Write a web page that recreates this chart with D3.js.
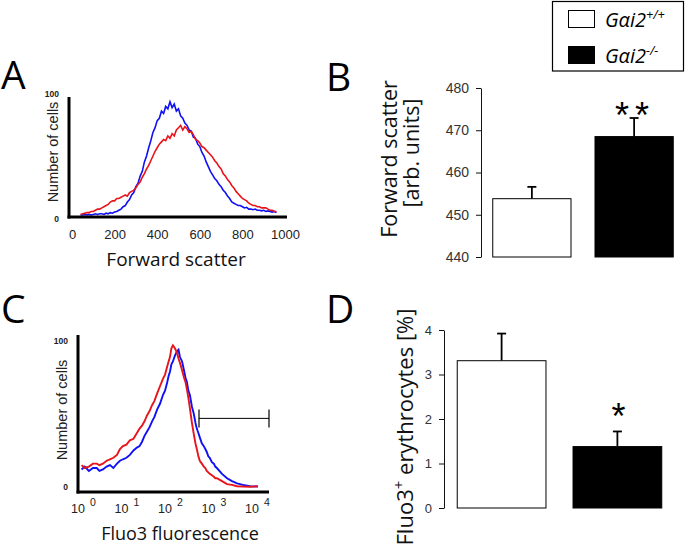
<!DOCTYPE html>
<html>
<head>
<meta charset="utf-8">
<script src="https://cdn.jsdelivr.net/npm/d3@7"></script>
<style>
  body { margin: 0; background: #fff; }
  svg { display: block; }
</style>
</head>
<body>
<svg id="chart" width="685" height="557"></svg>
<script>
// ---------------- DATA ----------------
// Panel A: forward scatter histograms (bin centre, arb. units) - % of max cells
const fscBins = d3.range(40, 961, 10);
const fscWildtype = [0,0,0.5,0,0.5,0,0.5,1,0.5,1,
  1,0.5,1.5,1,2,1.5,2.5,3,4,5,
  7,8,11,13,17,19,24,27,33,37,
  45,50,57,63,70,74,80,82,88,86,
  92,90,96,91,94,88,90,84,82,78,
  76,72,71,66,65,60,58,53,50,45,
  41,37,34,31,29,26,24,21,19,16,
  14,11,10,9,8,8,7,6,6.5,5,
  5,4.5,5,4,4,3.5,4,3,3.5,3,
  2.5,3,2];
const fscKnockout = [0.5,1,1.5,2,2,3,3,4,5,5,
  6,7,8,9,11,12,12,14,14,15,
  16,17,16,19,20,21,23,26,28,32,
  35,39,42,46,50,54,57,60,62,64,
  63,67,65,69,67,72,74,76,72,75,
  73,70,71,68,64,63,61,58,57,55,
  53,51,49,46,44,41,39,35,33,30,
  28,25,23,20,18,16,14,13,12,10,
  9,8,8,7,7,6,6,6,5,4,
  4,3,3];
const fscTicks = [0, 200, 400, 600, 800, 1000];
const countTicks = [0, 100];

// Panel C: Fluo3 fluorescence histograms (log fluorescence) - % of max cells
const fluoBins = [0.93,1.1,1.37,1.7,2.07,2.4,2.88,3.5,4.18,5,
  6.05,7.1,8.3,10,12,14.5,17.4,20,22.8,26,
  29.7,34,38.8,44,50.6,59,69,77,85.5,93,
  100,108,117,130,145,157,170,190,210,227,
  245,265,287,320,354,385,414,450,485,540,
  600,650,702,760,822,920,1020,1100,1200,1570,
  2050,2670,3480,4750,6940,10500];
const fluoWildtype = [12,14,11,13,13,11,12,14,15,13,
  16,18,19,20,22,25,27,28,31,35,
  38,41,45,48,53,57,63,66,71,76,
  79,84,86,90,93,94,89,86,80,75,
  72,66,63,55,50,44,40,37,34,30,
  28,26,24,21,20,17,16,14,13,9,
  6,4,2.5,1.5,0.5,0.3];
const fluoKnockout = [15,13,14,16,16,15,16,18,19,20,
  22,26,28,29,32,33,37,40,42,45,
  49,52,56,59,64,69,74,77,82,86,
  89,95,97,95,92,88,85,80,75,72,
  67,61,54,44,36,30,26,21,18,16,
  14,13,11,10,9,8,7,6,6,4,
  2,1.5,0.5,0.3,0.2,0.5];
const fluoTicks = [1, 10, 100, 1000, 10000];
const fluoExponents = ["0", "1", "2", "3", "4"];
const fluoGate = [465, 18900];
const fluoGateLevel = 47;

// Panels B and D: bar charts
const genotypeBase = "G\u03b1i2";
const genotypeSup = ["+/+", "-/-"];
const genotypes = ["wt", "ko"];
const fscMean = [453.8, 468.5];
const fscSem = [2.8, 4.4];
const fscBarTicks = [440, 450, 460, 470, 480];
const fscSignif = ["", "**"];
const fluoPosMean = [3.31, 1.38];
const fluoPosSem = [0.61, 0.34];
const fluoPosTicks = [0, 1, 2, 3, 4];
const fluoPosSignif = ["", "*"];

// ---------------- STYLE ----------------
const BLUE = "#1010f5", RED = "#e8141c";
const SANS = "'Open Sans', sans-serif";
const ARIAL = "'Liberation Sans', Arial, sans-serif";

const svg = d3.select("#chart");

function panelLetter(t, x, y) {
  svg.append("text").attr("x", x).attr("y", y).text(t)
    .attr("font-family", SANS).attr("font-size", 39).attr("fill", "#000");
}

// ---------------- PANEL A ----------------
{
  const x = d3.scaleLinear().domain([0, 1000]).range([72, 285]);
  const y = d3.scaleLinear().domain([0, 100]).range([215, 97]);
  const g = svg.append("g");
  const line = d3.line().x((d, i) => x(fscBins[i])).y(d => y(d)).curve(d3.curveLinear);
  g.append("path").datum(fscWildtype).attr("d", line).attr("fill", "none").attr("stroke", BLUE).attr("stroke-width", 1.6);
  g.append("path").datum(fscKnockout).attr("d", line).attr("fill", "none").attr("stroke", RED).attr("stroke-width", 1.6);
  // axes
  const xa = g.append("g").attr("transform", "translate(0,217)")
    .call(d3.axisBottom(x).tickValues(fscTicks).tickSize(0).tickPadding(13).tickFormat(d3.format("d")));
  xa.select(".domain").remove();
  xa.selectAll("text").attr("font-family", ARIAL).attr("font-size", 13).attr("fill", "#222");
  const ya = g.append("g").attr("transform", "translate(69,0)")
    .call(d3.axisLeft(y).tickValues(countTicks).tickSize(0).tickPadding(10));
  ya.select(".domain").remove();
  ya.selectAll("text").attr("font-family", ARIAL).attr("font-size", 8.5).attr("font-weight", "bold").attr("fill", "#222");
  ya.selectAll(".tick").filter(d => d === 100).select("text").attr("dy", "-0.1em");
  ya.selectAll(".tick").filter(d => d === 0).select("text").attr("dy", "0.75em");
  g.append("line").attr("x1", 69).attr("x2", 69).attr("y1", y(100)).attr("y2", 218.5).attr("stroke", "#000").attr("stroke-width", 3);
  g.append("line").attr("x1", 67.5).attr("x2", 287).attr("y1", 217).attr("y2", 217).attr("stroke", "#000").attr("stroke-width", 3);
  g.append("text").attr("transform", "translate(58,152) rotate(-90)").attr("text-anchor", "middle")
    .attr("font-family", ARIAL).attr("font-size", 14.5).attr("fill", "#222").text("Number of cells");
  g.append("text").attr("x", 176).attr("y", 266).attr("text-anchor", "middle")
    .attr("font-family", SANS).attr("font-size", 19).attr("fill", "#111").text("Forward scatter");
  panelLetter("A", 1, 89);
}

// ---------------- PANEL C ----------------
{
  const x = d3.scaleLog().domain([0.77, 18900]).range([78, 269]);
  const y = d3.scaleLinear().domain([0, 100]).range([487, 341]);
  const g = svg.append("g");
  const line = d3.line().x((d, i) => x(fluoBins[i])).y(d => y(d));
  g.append("path").datum(fluoWildtype).attr("d", line).attr("fill", "none").attr("stroke", BLUE).attr("stroke-width", 1.9);
  g.append("path").datum(fluoKnockout).attr("d", line).attr("fill", "none").attr("stroke", RED).attr("stroke-width", 1.9);
  // gate bracket
  const gy = y(fluoGateLevel);
  g.append("line").attr("x1", x(fluoGate[0])).attr("x2", x(fluoGate[1])).attr("y1", gy).attr("y2", gy).attr("stroke", "#000").attr("stroke-width", 1);
  fluoGate.forEach(v => g.append("line").attr("x1", x(v)).attr("x2", x(v)).attr("y1", gy - 9).attr("y2", gy + 9).attr("stroke", "#000").attr("stroke-width", 1.2));
  // x ticks
  const xa = g.append("g").attr("transform", "translate(0,492)")
    .call(d3.axisBottom(x).tickValues(fluoTicks).tickSize(0).tickPadding(15).tickFormat(() => ""));
  xa.select(".domain").remove();
  xa.selectAll(".tick text").each(function(d, i) {
    const t = d3.select(this).attr("font-family", ARIAL).attr("font-size", 12.5).attr("fill", "#222").attr("y", 21).attr("dy", null);
    t.append("tspan").text("10");
    t.append("tspan").attr("dx", 5).attr("dy", -7).attr("font-size", 10.5).text(fluoExponents[i]);
  });
  const ya = g.append("g").attr("transform", "translate(78,0)")
    .call(d3.axisLeft(y).tickValues(countTicks).tickSize(0).tickPadding(10));
  ya.select(".domain").remove();
  ya.selectAll("text").attr("font-family", ARIAL).attr("font-size", 8.5).attr("font-weight", "bold").attr("fill", "#222");
  g.append("line").attr("x1", 78).attr("x2", 78).attr("y1", 335).attr("y2", 493.5).attr("stroke", "#000").attr("stroke-width", 3);
  g.append("line").attr("x1", 76.5).attr("x2", 269).attr("y1", 492).attr("y2", 492).attr("stroke", "#000").attr("stroke-width", 3);
  g.append("text").attr("transform", "translate(67,410) rotate(-90)").attr("text-anchor", "middle")
    .attr("font-family", ARIAL).attr("font-size", 14.5).attr("fill", "#222").text("Number of cells");
  g.append("text").attr("x", 180).attr("y", 540).attr("text-anchor", "middle")
    .attr("font-family", SANS).attr("font-size", 18).attr("fill", "#111").text("Fluo3 fluorescence");
  panelLetter("C", 1, 323);
}

// ---------------- BAR PANELS ----------------
function barPanel(opts) {
  const g = svg.append("g");
  const x = d3.scaleBand().domain(genotypes).range(opts.xr).paddingInner(0.225).paddingOuter(0.11);
  const y = d3.scaleLinear().domain(opts.domain).range(opts.yr);
  const ya = g.append("g").attr("transform", `translate(${opts.xr[0]},0)`)
    .call(d3.axisLeft(y).tickValues(opts.ticks).tickSize(5).tickSizeOuter(0).tickPadding(7).tickFormat(d3.format("d")));
  ya.select(".domain").attr("stroke", "#111");
  ya.selectAll(".tick line").attr("stroke", "#111");
  ya.selectAll("text").attr("font-family", ARIAL).attr("font-size", opts.tickFont).attr("fill", "#333");
  genotypes.forEach((k, i) => {
    const bx = x(k), bw = x.bandwidth();
    const top = y(opts.mean[i]);
    const etop = y(opts.mean[i] + opts.sem[i]);
    const cx = bx + bw / 2;
    g.append("line").attr("x1", cx).attr("x2", cx).attr("y1", top).attr("y2", etop).attr("stroke", "#000").attr("stroke-width", 1.8);
    g.append("line").attr("x1", cx - 4.5).attr("x2", cx + 4.5).attr("y1", etop).attr("y2", etop).attr("stroke", "#000").attr("stroke-width", 1.8);
    g.append("rect").attr("x", bx + 0.5).attr("y", top).attr("width", bw - 1).attr("height", y(opts.domain[0]) - top)
      .attr("fill", i === 0 ? "#fff" : "#000").attr("stroke", "#000").attr("stroke-width", 1);
    if (opts.signif[i]) {
      g.append("text").attr("x", cx + 1).attr("y", etop + opts.starDy).attr("text-anchor", "middle")
        .attr("font-family", ARIAL).attr("font-size", 36).attr("letter-spacing", opts.starSpacing).attr("fill", "#000")
        .text(opts.signif[i]);
    }
  });
  return g;
}

// Panel B
{
  const g = barPanel({ xr: [481, 685], yr: [257, 88], domain: [440, 480], ticks: fscBarTicks,
    mean: fscMean, sem: fscSem, signif: fscSignif, tickFont: 14, starDy: 10, starSpacing: 6 });
  g.append("text").attr("transform", "translate(397,159) rotate(-90)").attr("text-anchor", "middle")
    .attr("font-family", SANS).attr("font-size", 21.5).attr("fill", "#111").text("Forward scatter");
  g.append("text").attr("transform", "translate(419,153) rotate(-90)").attr("text-anchor", "middle")
    .attr("font-family", SANS).attr("font-size", 21.5).attr("fill", "#111").text("[arb. units]");
  panelLetter("B", 326, 91);
}

// Panel D
{
  const g = barPanel({ xr: [444, 675], yr: [508, 330], domain: [0, 4], ticks: fluoPosTicks,
    mean: fluoPosMean, sem: fluoPosSem, signif: fluoPosSignif, tickFont: 13, starDy: -2, starSpacing: 0 });
  const t = g.append("text").attr("transform", "translate(413,427) rotate(-90)").attr("text-anchor", "middle")
    .attr("font-family", SANS).attr("font-size", 22).attr("fill", "#111");
  t.append("tspan").text("Fluo3");
  t.append("tspan").attr("dy", -9).attr("font-size", 15).text("+");
  t.append("tspan").attr("dy", 9).text(" erythrocytes [%]");
  panelLetter("D", 326, 323);
}

// ---------------- LEGEND ----------------
{
  const g = svg.append("g");
  g.append("rect").attr("x", 552.5).attr("y", 1.5).attr("width", 131).attr("height", 69.5)
    .attr("fill", "#fff").attr("stroke", "#000").attr("stroke-width", 1.2);
  genotypeSup.forEach((s, i) => {
    const yy = 10 + i * 36;
    g.append("rect").attr("x", 568.5).attr("y", yy + 0.5).attr("width", 26).attr("height", 17)
      .attr("fill", i === 0 ? "#fff" : "#000").attr("stroke", "#000").attr("stroke-width", 1);
    const t = g.append("text").attr("x", 605).attr("y", yy + 17).attr("font-family", SANS)
      .attr("font-style", "italic").attr("font-size", 20).attr("fill", "#000");
    t.append("tspan").text(genotypeBase);
    t.append("tspan").attr("dy", -8).attr("font-size", 12.5).text(s);
  });
}
</script>
</body>
</html>
